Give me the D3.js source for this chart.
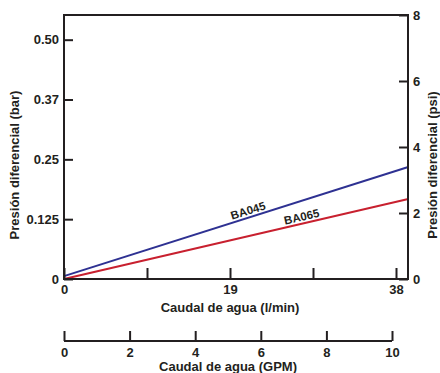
<!DOCTYPE html>
<html>
<head>
<meta charset="utf-8">
<script src="https://cdn.jsdelivr.net/npm/d3@7"></script>
<style>
  body { margin: 0; background: #fff; }
  text { font-family: "Liberation Sans", Arial, sans-serif; font-weight: bold; fill: #231f20; }
</style>
</head>
<body>
<svg id="chart" width="440" height="373"></svg>
<script>
// flow (l/min) and pressure drop (bar)
const flowLpm = [0, 39.4];
const ba045 = [0.006, 0.234];
const ba065 = [0.0, 0.167];

const barTicks = [0, 0.125, 0.25, 0.375, 0.5];
const barTickLabels = ['0', '0.125', '0.25', '0.37', '0.50'];
const psiTicks = [0, 2, 4, 6, 8];
const lpmTicks = [0, 9.5, 19, 28.5, 38];
const lpmTickLabels = { 0: '0', 19: '19', 38: '38' };
const gpmTicks = [0, 2, 4, 6, 8, 10];

const series = [
  { name: 'BA045', values: ba045, color: '#2e3192', labelAt: 21.2, angle: -17 },
  { name: 'BA065', values: ba065, color: '#c8202f', labelAt: 27.3, angle: -13 }
];

const margin = { top: 15, right: 32, bottom: 94, left: 64 };
const width = 440 - margin.left - margin.right;
const height = 373 - margin.top - margin.bottom;

const svg = d3.select('#chart');
const chart = svg.append('g').attr('transform', `translate(${margin.left},${margin.top})`);

// 38 l/min sits a little inside the right edge
const xScale = d3.scaleLinear().domain([0, 38 * width / 332]).range([0, width]);
const psiMax = 8;
const yPsi = d3.scaleLinear().domain([0, psiMax]).range([height, 0]);
const yScale = d3.scaleLinear().domain([0, psiMax * 0.0689476]).range([height, 0]);
const gpmScale = d3.scaleLinear().domain([0, 10]).range([0, 328]);

// series lines
const line = d3.line()
  .x((d, i) => xScale(flowLpm[i]))
  .y(d => yScale(d));

series.forEach(s => {
  chart.append('path')
    .attr('d', line(s.values))
    .attr('fill', 'none')
    .attr('stroke', s.color)
    .attr('stroke-width', 2);

  const t = (s.labelAt - flowLpm[0]) / (flowLpm[1] - flowLpm[0]);
  const v = s.values[0] + t * (s.values[1] - s.values[0]);
  chart.append('text')
    .attr('transform', `translate(${xScale(s.labelAt)},${yScale(v) - 3}) rotate(${s.angle})`)
    .attr('text-anchor', 'middle')
    .style('font-size', '11.5px')
    .text(s.name);
});

// left axis (bar), ticks inward
const yAxis = d3.axisLeft(yScale)
  .tickValues(barTicks)
  .tickSize(-9)
  .tickPadding(5)
  .tickFormat((d, i) => barTickLabels[i]);
const gy = chart.append('g').call(yAxis);

// right axis (psi)
const yAxisR = d3.axisRight(yPsi)
  .tickValues(psiTicks)
  .tickSize(-9)
  .tickPadding(5)
  .tickFormat(d3.format('d'));
const gyr = chart.append('g').attr('transform', `translate(${width},0)`).call(yAxisR);

// bottom axis (l/min)
const xAxis = d3.axisBottom(xScale)
  .tickValues(lpmTicks)
  .tickSize(-11)
  .tickPadding(6)
  .tickFormat(d => lpmTickLabels[d] || '');
const gx = chart.append('g').attr('transform', `translate(0,${height})`).call(xAxis);

[gy, gyr, gx].forEach(g => {
  g.select('.domain').remove();
  g.selectAll('line').attr('stroke', '#231f20').attr('stroke-width', 2);
  g.selectAll('text').style('font-size', '13px').attr('fill', '#231f20');
});
gx.selectAll('text').attr('dy', '0.9em').attr('y', 3);

// frame
chart.append('rect')
  .attr('width', width)
  .attr('height', height)
  .attr('fill', 'none')
  .attr('stroke', '#231f20')
  .attr('stroke-width', 2);

// GPM axis below
const gpmAxis = d3.axisBottom(gpmScale)
  .tickValues(gpmTicks)
  .tickSize(-10)
  .tickPadding(7)
  .tickFormat(d3.format('d'));
const gg = chart.append('g').attr('transform', `translate(0,${height + 62})`).call(gpmAxis);
gg.select('.domain').attr('stroke', '#231f20').attr('stroke-width', 2).attr('d', `M0,0H${gpmScale(10)}`);
gg.selectAll('line').attr('stroke', '#231f20').attr('stroke-width', 2);
gg.selectAll('text').style('font-size', '13px').attr('fill', '#231f20');

// axis titles
chart.append('text')
  .attr('x', xScale(19))
  .attr('y', height + 33)
  .attr('text-anchor', 'middle')
  .style('font-size', '13px')
  .text('Caudal de agua (l/min)');

chart.append('text')
  .attr('x', gpmScale(5))
  .attr('y', height + 92)
  .attr('text-anchor', 'middle')
  .style('font-size', '13px')
  .text('Caudal de agua (GPM)');

chart.append('text')
  .attr('transform', `translate(${-margin.left + 19},${height / 2 + 18}) rotate(-90)`)
  .attr('text-anchor', 'middle')
  .style('font-size', '13px')
  .text('Presión diferencial (bar)');

chart.append('text')
  .attr('transform', `translate(${width + 29},${height / 2 + 18}) rotate(-90)`)
  .attr('text-anchor', 'middle')
  .style('font-size', '13px')
  .text('Presión diferencial (psi)');
</script>
</body>
</html>
